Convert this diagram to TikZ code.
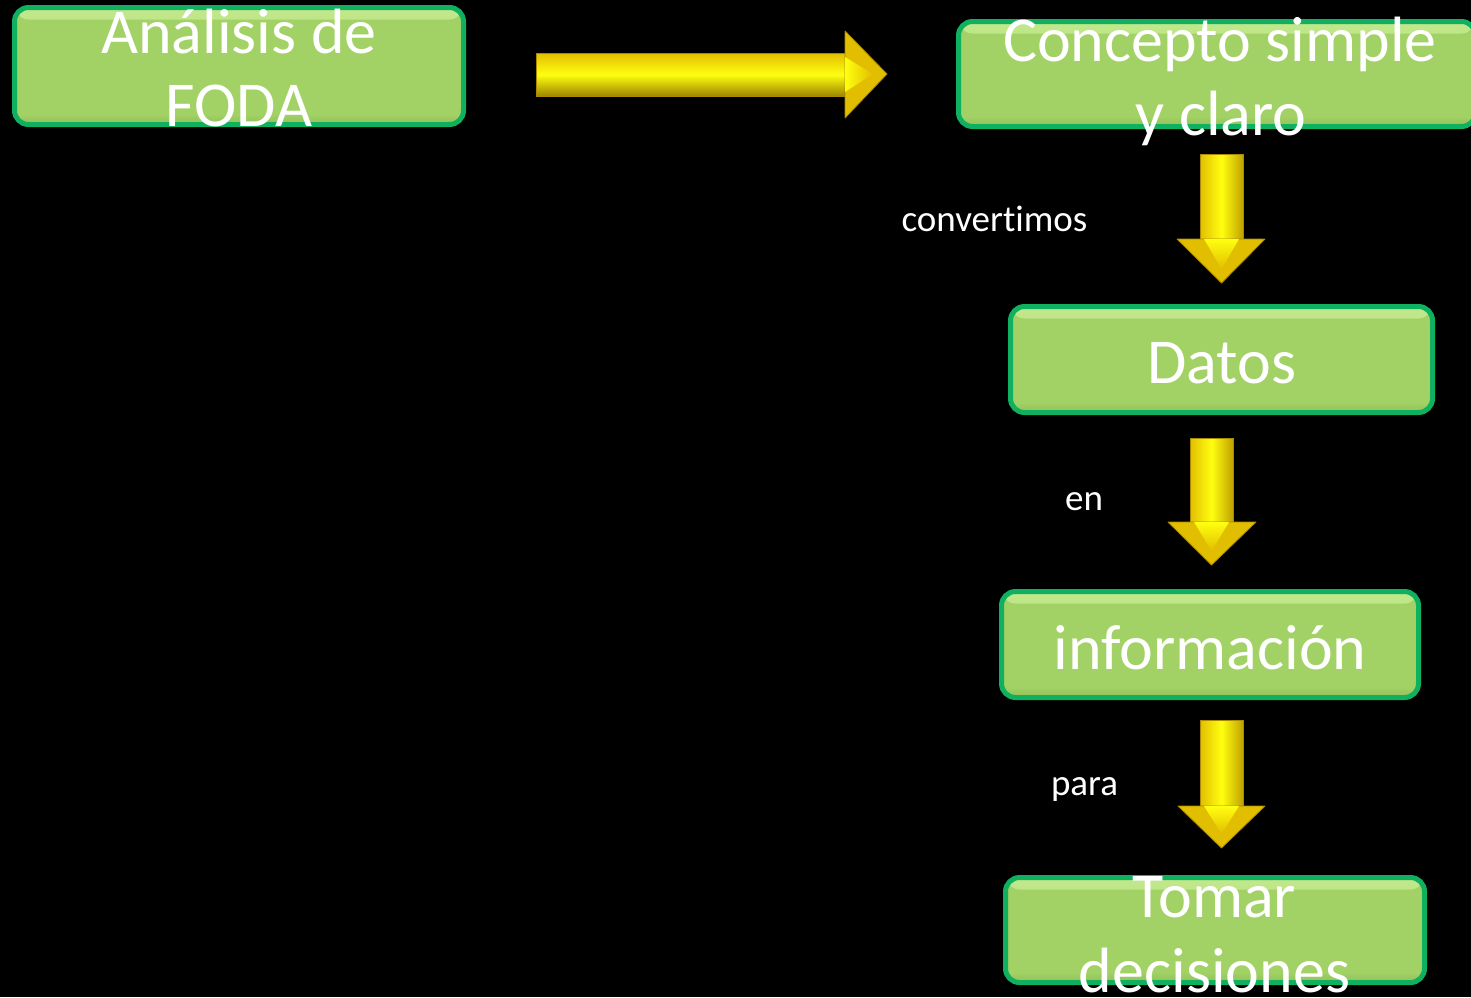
\documentclass[tikz,border=0pt]{standalone}
\usepackage{fontspec}
\setmainfont{Carlito}[Ligatures=NoCommon]
\definecolor{boxfill}{HTML}{A2D165}
\definecolor{boxlight}{HTML}{C2E88C}
\definecolor{boxdark}{HTML}{8FC058}
\definecolor{boxedge}{HTML}{0FB060}
\definecolor{arrY}{HTML}{FFFF10}
\definecolor{arrG}{HTML}{E2BE00}
\definecolor{arrD}{HTML}{A88A00}
\newcommand{\yarrowdown}[7]{%
  \shade[left color=arrG, right color=arrG!85!black, middle color=arrY, draw=arrD, line width=0.8pt] (#1,#3) rectangle (#2,#4);
  \fill[arrG, draw=arrD, line width=0.8pt, line join=round] (#5,#4) -- (#6,#4) -- ({(#1+#2)/2},#7) -- cycle;
  \shade[top color=arrY, bottom color=arrG] (#1+4,#4) -- (#2-4,#4) -- ({(#1+#2)/2},#7-14) -- cycle;
}
\begin{document}
\begin{tikzpicture}[x=1pt,y=-1pt,
  greenbox/.style={rectangle, rounded corners=14pt, draw=boxedge, line width=5pt, fill=boxfill, inner sep=0pt,
    path picture={
      \shade[top color=boxlight, bottom color=boxfill] ([yshift=-2pt]path picture bounding box.north west) rectangle ([yshift=-12pt]path picture bounding box.north east);
      \shade[top color=boxfill, bottom color=boxdark] ([yshift=10pt]path picture bounding box.south west) rectangle (path picture bounding box.south east);
    }},
  boxtext/.style={text=white, font=\fontsize{64}{76}\selectfont, inner sep=0pt, anchor=base},
  lbl/.style={text=white, font=\fontsize{37}{44}\selectfont, inner sep=0pt, anchor=base}]
\useasboundingbox (0,0) rectangle (1471,997);
\fill[black] (0,0) rectangle (1471,997);
\begin{scope}
\clip (0,0) rectangle (1471,997);
% boxes
\node[greenbox, minimum width=449pt, minimum height=117pt] (foda) at (239,66) {};
\node[greenbox, minimum width=517pt, minimum height=105pt] (concepto) at (1217,74) {};
\node[greenbox, minimum width=422pt, minimum height=106pt] (datos) at (1221.5,359.5) {};
\node[greenbox, minimum width=417pt, minimum height=106pt] (info) at (1210,644.5) {};
\node[greenbox, minimum width=419pt, minimum height=105pt] (tomar) at (1215,930) {};
% box texts
\node[boxtext] (foda1) at (239,53) {Análisis de};
\node[boxtext] (foda2) at (239,126) {FODA};
\node[boxtext] (concepto1) at (1220,61) {Concepto simple};
\node[boxtext] (concepto2) at (1221,135) {y claro};
\node[boxtext] (datost) at (1222,383) {Datos};
\node[boxtext] (infot) at (1210,669) {información};
\node[boxtext] (tomar1) at (1214.5,917) {Tomar};
\node[boxtext] (tomar2) at (1214.5,992) {decisiones};
% labels
\node[lbl] (lconv) at (994.5,231.5) {convertimos};
\node[lbl] (len) at (1084,510) {en};
\node[lbl] (lpara) at (1084.5,795) {para};
% horizontal block arrow
\shade[top color=arrG, bottom color=arrG!70!black, middle color=arrY, draw=arrD, line width=0.8pt] (536,53) rectangle (845,96);
\fill[arrG, draw=arrD, line width=0.8pt, line join=round] (845,31) -- (887,74) -- (845,118) -- cycle;
\shade[left color=arrY, right color=arrG] (845,57) -- (873,74) -- (845,92) -- cycle;
% vertical block arrows
\yarrowdown{1200}{1243}{154}{239}{1177}{1265}{283}
\yarrowdown{1190}{1233}{438}{522}{1168}{1256}{565}
\yarrowdown{1200}{1243}{720}{806}{1178}{1265}{848}
\end{scope}
\end{tikzpicture}
\end{document}
